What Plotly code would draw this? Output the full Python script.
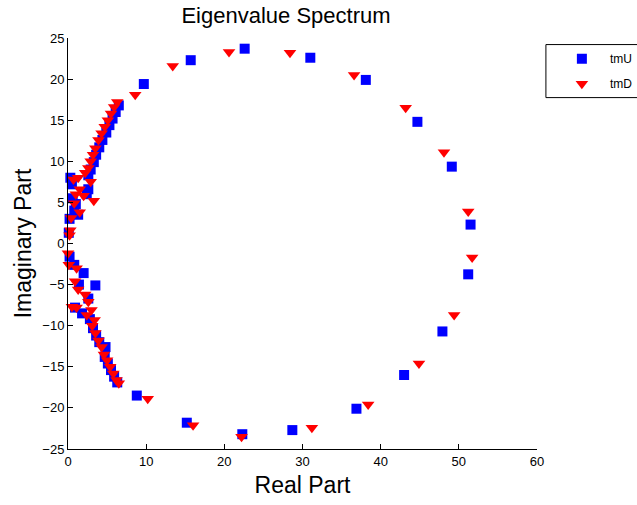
import plotly.graph_objects as go

# ---- data ----
tmU_real = [9.7, 15.7, 22.6, 31.0, 38.1, 44.7, 49.1, 51.5, 51.2, 47.9, 43.0, 36.9, 28.7, 22.3, 15.2, 8.8,
            6.5, 6.1, 5.7, 5.3, 4.9, 4.4, 4.0, 3.6, 3.3, 2.9, 2.6, 0.3, 0.5, 2.6, 2.4, 0.6, 1.0, 0.8, 1.3, 0.2, 0.1,
            0.2, 0.8, 2.0, 3.5, 1.4, 2.6, 0.9, 1.8, 2.8, 3.2, 3.6, 4.0, 4.8, 4.7, 5.1, 5.5, 5.9, 6.3]
tmU_imag = [19.4, 22.3, 23.7, 22.6, 19.9, 14.8, 9.35, 2.3, -3.75, -10.7, -16.0, -20.1, -22.7, -23.2, -21.8, -18.5,
            16.8, 16.0, 15.2, 14.4, 13.5, 12.6, 11.7, 10.8, 9.9, 9.0, 8.3, 8.0, 7.2, 6.6, 6.0, 5.5, 4.8, 4.0, 3.5, 3.0, 1.3,
            -1.6, -2.6, -3.6, -5.1, -5.0, -6.7, -7.8, -8.5, -9.2, -10.3, -11.2, -12.0, -12.6, -13.8, -14.6, -15.4, -16.2, -16.9]

tmD_real = [8.6, 13.4, 20.6, 28.4, 36.6, 43.2, 48.1, 51.2, 51.7, 49.4, 44.9, 38.4, 31.2, 22.2, 16.0, 10.2,
            6.3, 5.9, 5.5, 5.1, 4.7, 4.3, 3.9, 3.5, 3.2, 2.9, 2.6, 2.2, 1.3, 0.7, 2.9, 1.5, 1.0, 2.0, 3.3, 0.8, 1.5, 0.4, 0.3, 0.2,
            0.0, 0.1, 1.1, 0.9, 1.3, 2.2, 2.6, 1.1, 0.5, 3.0, 2.4, 3.4, 3.1, 3.5, 3.9, 4.3, 4.6, 5.0, 5.4, 5.8, 6.2, 6.5]
tmD_imag = [18.1, 21.6, 23.3, 23.2, 20.5, 16.5, 11.1, 3.9, -1.7, -8.7, -14.6, -19.6, -22.4, -23.5, -22.1, -18.9,
            17.2, 16.6, 15.8, 15.0, 14.2, 13.4, 12.6, 11.6, 10.8, 10.0, 9.2, 8.6, 8.0, 7.8, 7.5, 6.6, 6.0, 5.8, 5.2, 4.9, 3.8, 3.1, 1.6, 1.0,
            -1.2, -2.6, -3.0, -4.6, -5.6, -6.2, -7.1, -7.8, -7.7, -8.1, -8.7, -9.3, -10.0, -10.9, -11.8, -12.6, -13.5, -14.2, -15.0, -15.8, -16.6, -17.0]

x_ticks = [0, 10, 20, 30, 40, 50, 60]
y_ticks = [-25, -20, -15, -10, -5, 0, 5, 10, 15, 20, 25]

FONT = "Liberation Sans, Arial, sans-serif"

fig = go.Figure()
fig.add_trace(go.Scatter(
    x=tmU_real, y=tmU_imag, mode="markers", name="tmU", legendgroup="u",
    marker=dict(symbol="square", size=10, color="#0000FF", line=dict(width=0)),
    cliponaxis=False,
))
fig.add_trace(go.Scatter(
    x=tmD_real, y=tmD_imag, mode="markers", name="tmD", legendgroup="d",
    marker=dict(symbol="triangle-down", size=11, color="#FF0000", line=dict(width=0)),
    cliponaxis=False,
))

fig.update_layout(
    width=637, height=505,
    margin=dict(l=68, r=100, t=38, b=56, autoexpand=False),
    paper_bgcolor="white", plot_bgcolor="white",
    font=dict(family=FONT, color="black", size=12),
    title=dict(text="Eigenvalue Spectrum", x=0.449, xanchor="center", y=0.97, yanchor="middle",
               font=dict(size=22, family=FONT, color="black")),
    showlegend=True,
    legend=dict(x=1.036, xanchor="left", y=0.985, yanchor="top",
                bgcolor="rgba(0,0,0,0)", borderwidth=0, itemwidth=46,
                font=dict(size=12, family=FONT, color="black"),
                traceorder="grouped", tracegroupgap=6),
    shapes=[dict(type="rect", xref="paper", yref="paper",
                 x0=1.019, x1=1.25, y0=0.855, y1=0.984,
                 line=dict(color="black", width=1), fillcolor="rgba(0,0,0,0)")],
)
fig.update_xaxes(range=[0, 60], tickvals=x_ticks, ticks="inside", ticklen=5, tickcolor="black",
                 showline=True, linecolor="black", linewidth=1, mirror=False,
                 showgrid=False, zeroline=False,
                 tickfont=dict(size=13, family=FONT, color="black"),
                 title=dict(text="Real Part", font=dict(size=23, family=FONT, color="black"), standoff=9))
fig.update_yaxes(range=[-25, 25], tickvals=y_ticks, ticks="inside", ticklen=5, tickcolor="black",
                 showline=True, linecolor="black", linewidth=1, mirror=False,
                 showgrid=False, zeroline=False,
                 tickfont=dict(size=13, family=FONT, color="black"),
                 title=dict(text="Imaginary Part", font=dict(size=23, family=FONT, color="black"), standoff=4))

fig.write_html("out.html", config={"displayModeBar": False},
               post_script="document.body.style.margin='0';document.body.style.overflow='hidden';")
